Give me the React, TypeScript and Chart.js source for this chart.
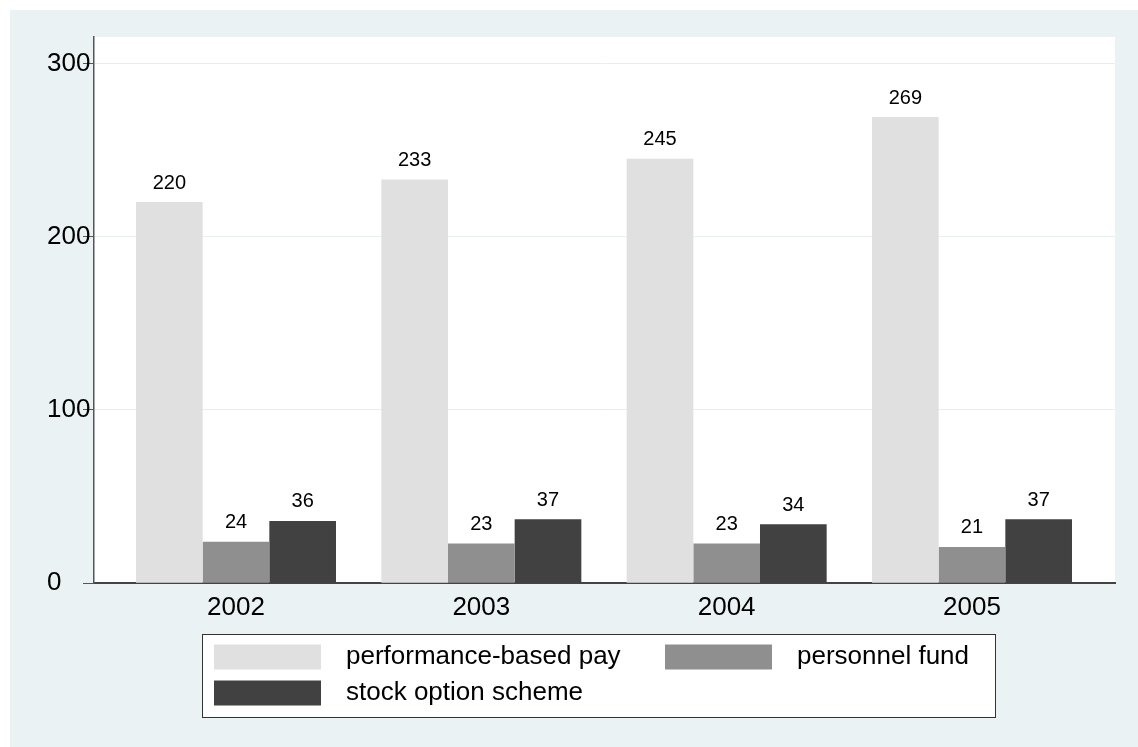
import React, { useEffect, useRef } from "react";
import { Chart, registerables } from "chart.js";

Chart.register(...registerables);

const years = ["2002", "2003", "2004", "2005"];
const performancePay = [220, 233, 245, 269];
const personnelFund = [24, 23, 23, 21];
const stockOption = [36, 37, 34, 37];
const yTicks = [0, 100, 200, 300];
const seriesNames = ["performance-based pay", "personnel fund", "stock option scheme"];
const seriesColors = ["#E0E0E0", "#8F8F8F", "#414141"];

const FONT = "'Liberation Sans', Arial, Helvetica, sans-serif";

const plotBg = {
  id: "plotBg",
  beforeDraw(chart: any) {
    const { ctx, chartArea } = chart;
    ctx.save();
    ctx.fillStyle = "#FFFFFF";
    ctx.fillRect(chartArea.left, chartArea.top, chartArea.right - chartArea.left, chartArea.bottom - chartArea.top);
    ctx.restore();
  },
};

const valueLabels = {
  id: "valueLabels",
  afterDatasetsDraw(chart: any) {
    const { ctx } = chart;
    ctx.save();
    ctx.font = `20px ${FONT}`;
    ctx.fillStyle = "#000000";
    ctx.textAlign = "center";
    ctx.textBaseline = "middle";
    chart.data.datasets.forEach((ds: any, di: number) => {
      const meta = chart.getDatasetMeta(di);
      meta.data.forEach((el: any, i: number) => {
        ctx.fillText(String(ds.data[i].y), el.x, el.y - 19);
      });
    });
    ctx.restore();
  },
};

const boxLegend = {
  id: "boxLegend",
  afterDraw(chart: any) {
    const { ctx } = chart;
    const ds = chart.data.datasets;
    ctx.save();
    const bx = 192, by = 624, bw = 793, bh = 83;
    ctx.fillStyle = "#FFFFFF";
    ctx.fillRect(bx, by, bw, bh);
    ctx.strokeStyle = "#333333";
    ctx.lineWidth = 1;
    ctx.strokeRect(bx + 0.5, by + 0.5, bw, bh);
    const cols = [204, 655];
    const rows = [647, 683];
    ctx.font = `26px ${FONT}`;
    ctx.textAlign = "left";
    ctx.textBaseline = "middle";
    ds.forEach((d: any, i: number) => {
      const cx = cols[i % 2];
      const cy = rows[Math.floor(i / 2)];
      ctx.fillStyle = d.backgroundColor;
      ctx.fillRect(cx, cy - 12.5, 107, 25);
      ctx.fillStyle = "#000000";
      ctx.fillText(d.label, cx + 132, cy);
    });
    ctx.restore();
  },
};

export default function App() {
  const ref = useRef<HTMLCanvasElement | null>(null);

  useEffect(() => {
    if (!ref.current) return;
    const seriesValues = [performancePay, personnelFund, stockOption];
    const chart = new Chart(ref.current, {
      type: "bar",
      data: {
        datasets: seriesValues.map((vals, si) => ({
          label: seriesNames[si],
          data: vals.map((v, i) => ({ x: i, y: v })),
          backgroundColor: seriesColors[si],
          borderWidth: 0,
          categoryPercentage: 0.8152,
          barPercentage: 1,
        })),
      } as any,
      options: {
        animation: false,
        responsive: false,
        layout: { padding: { left: 37, top: 27, right: 23, bottom: 0 } },
        plugins: {
          legend: { display: false },
          tooltip: { enabled: false },
        },
        scales: {
          x: {
            type: "linear",
            offset: false,
            min: -0.5788,
            max: 3.5829,
            afterBuildTicks: (scale: any) => {
              scale.ticks = years.map((_, i) => ({ value: i }));
            },
            afterFit: (scale: any) => {
              scale.height = 163.7;
            },
            ticks: {
              callback: (v: any) => years[v as number] ?? "",
              font: { family: FONT, size: 26 },
              color: "#000000",
              padding: 9,
              autoSkip: false,
              maxRotation: 0,
            },
            grid: { display: true, offset: false, drawOnChartArea: false, drawTicks: false },
            border: { display: true, color: "#444444", width: 2 },
          },
          y: {
            type: "linear",
            min: 0,
            max: 315.2,
            afterBuildTicks: (scale: any) => {
              scale.ticks = yTicks.map((v) => ({ value: v }));
            },
            afterFit: (scale: any) => {
              scale.width = 47;
            },
            ticks: {
              font: { family: FONT, size: 26 },
              color: "#000000",
              crossAlign: "far",
              callback: (v: any) => String(v),
            },
            grid: {
              color: (c: any) => (c.tick && c.tick.value === 0 ? "rgba(0,0,0,0)" : "#E6EEF0"),
              lineWidth: 1,
              tickColor: "#555555",
              tickLength: 11,
              drawTicks: true,
            },
            border: { display: true, color: "#555555", width: 1.5 },
          },
        },
      } as any,
      plugins: [plotBg, valueLabels, boxLegend],
    });
    return () => chart.destroy();
  }, []);

  return (
    <div
      style={{
        position: "fixed",
        left: 10,
        top: 10,
        width: 1128,
        height: 737,
        background: "#EAF2F3",
      }}
    >
      <canvas ref={ref} width={1128} height={737} style={{ display: "block" }} />
    </div>
  );
}
